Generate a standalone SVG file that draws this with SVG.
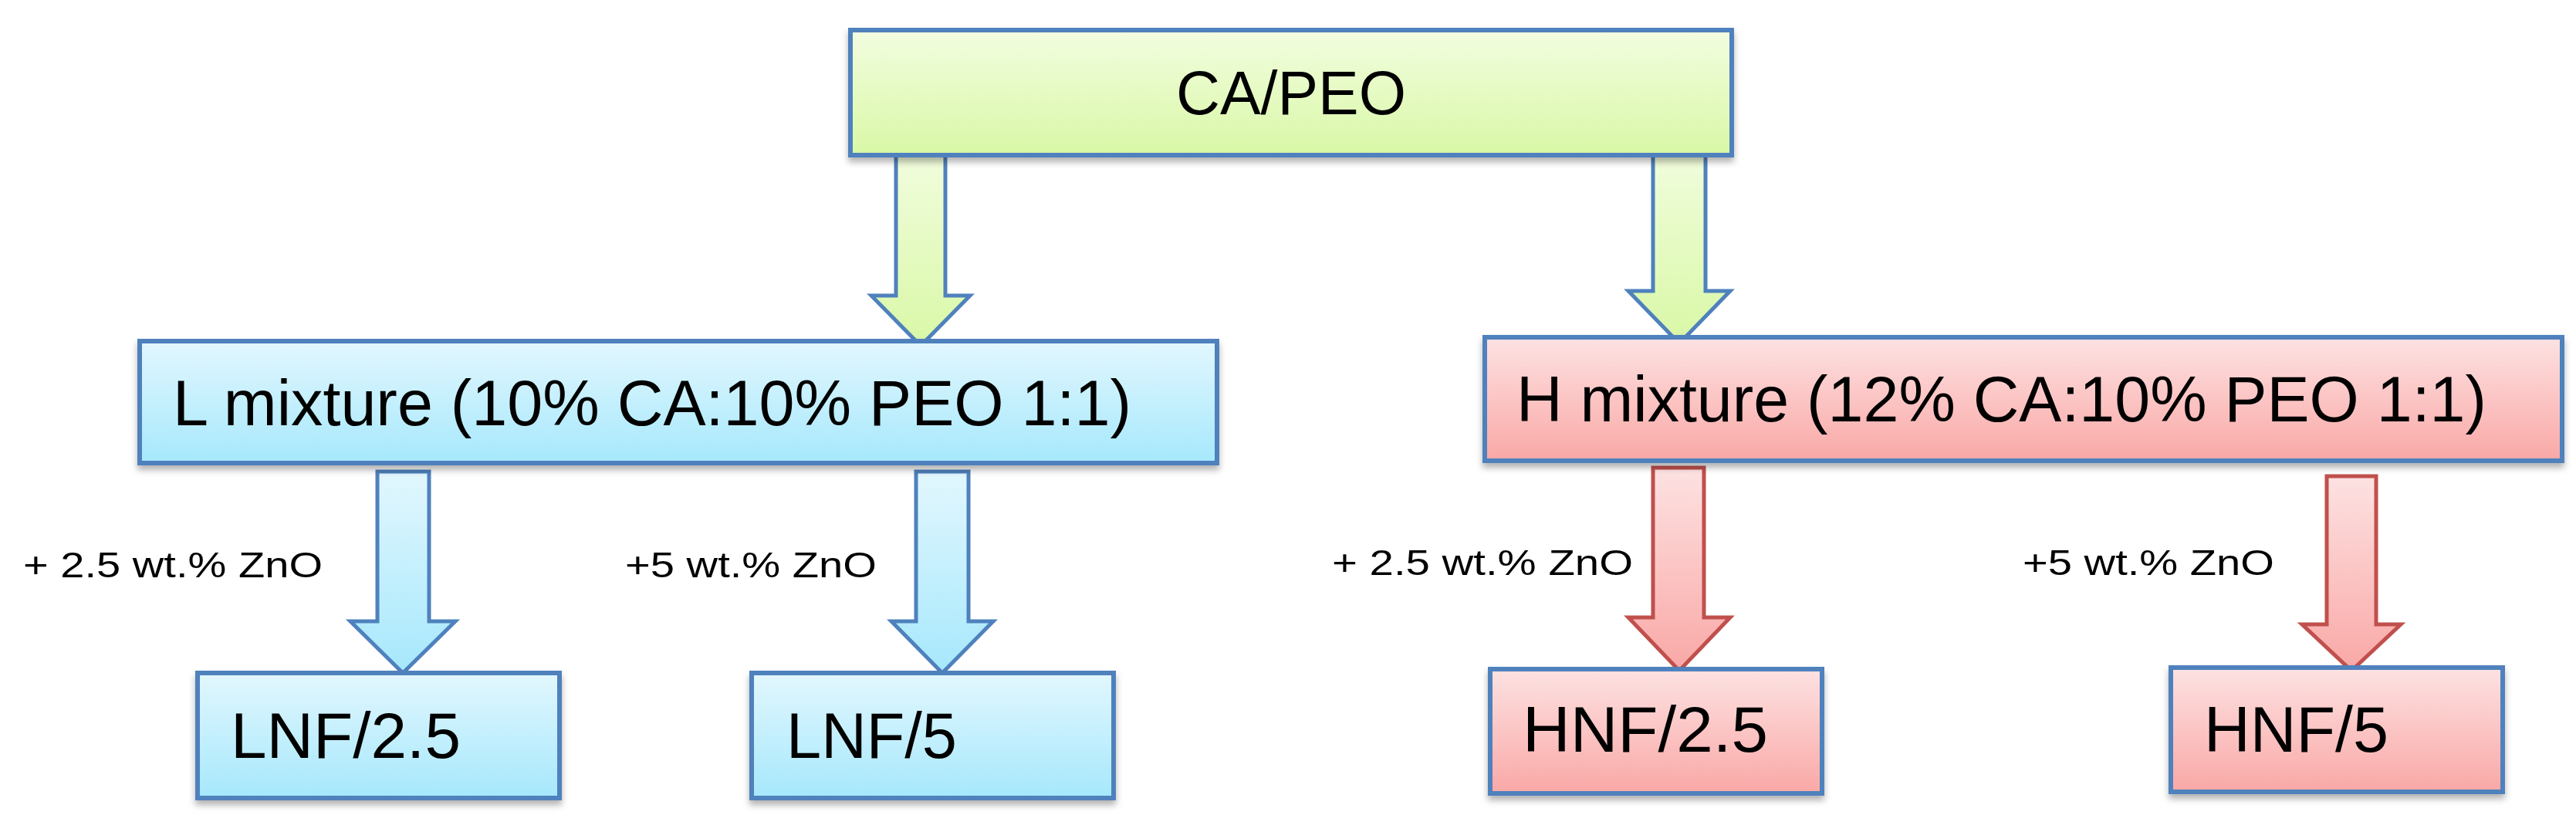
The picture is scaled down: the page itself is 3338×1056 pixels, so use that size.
<svg xmlns="http://www.w3.org/2000/svg" width="3338" height="1056" viewBox="0 0 3338 1056">
<defs>
<linearGradient id="gG" x1="0" y1="0" x2="0" y2="1"><stop offset="0" stop-color="#f2fde0"/><stop offset="1" stop-color="#d9f8a6"/></linearGradient>
<linearGradient id="gB" x1="0" y1="0" x2="0" y2="1"><stop offset="0" stop-color="#e2f7fe"/><stop offset="1" stop-color="#a6e8fc"/></linearGradient>
<linearGradient id="gR" x1="0" y1="0" x2="0" y2="1"><stop offset="0" stop-color="#fde2e2"/><stop offset="1" stop-color="#f9a8a6"/></linearGradient>
<filter id="sh" x="-5%" y="-5%" width="110%" height="120%"><feDropShadow dx="0" dy="6" stdDeviation="4" flood-color="#000" flood-opacity="0.3"/></filter>
</defs>
<style>
.box{stroke:#4f81bd;stroke-width:6;filter:url(#sh)}
.arr{stroke:#4f81bd;stroke-width:5;stroke-linejoin:miter}
.t{font-family:"Liberation Sans",Arial,sans-serif;fill:#000}
.big{font-size:84px}
.lab{font-size:46px}
</style>
<g id="connectors">
<path class="arr" fill="url(#gG)" d="M1161,187 H1225 V383 H1257 L1193,448 L1129,383 H1161 Z"/>
<path class="arr" fill="url(#gG)" d="M2142,182 H2210 V377 H2242 L2176,445 L2110,377 H2142 Z"/>
<path class="arr" fill="url(#gB)" d="M489,611 H556 V805 H590 L522,872 L454,805 H489 Z"/>
<path class="arr" fill="url(#gB)" d="M1187,611 H1255 V805 H1287 L1221,872 L1155,805 H1187 Z"/>
<path class="arr" fill="url(#gR)" style="stroke:#c0504d" d="M2142,606 H2208 V800 H2242 L2176,869 L2110,800 H2142 Z"/>
<path class="arr" fill="url(#gR)" style="stroke:#c0504d" d="M3015,617 H3079 V809 H3111 L3047,869 L2983,809 H3015 Z"/>
<text class="t lab" x="30" y="748" textLength="388" lengthAdjust="spacingAndGlyphs">+ 2.5 wt.% ZnO</text>
<text class="t lab" x="810" y="748" textLength="326" lengthAdjust="spacingAndGlyphs">+5 wt.% ZnO</text>
<text class="t lab" x="1726" y="745" textLength="390" lengthAdjust="spacingAndGlyphs">+ 2.5 wt.% ZnO</text>
<text class="t lab" x="2621" y="745" textLength="326" lengthAdjust="spacingAndGlyphs">+5 wt.% ZnO</text>
</g>
<g id="ca-peo"><rect class="box" x="1102" y="39" width="1142" height="162" fill="url(#gG)"/>
<text class="t" font-size="80" x="1524" y="148" textLength="298" lengthAdjust="spacingAndGlyphs">CA/PEO</text></g>
<g id="l-mixture"><rect class="box" x="181" y="442" width="1396" height="158" fill="url(#gB)"/>
<text class="t big" x="224" y="551" textLength="1242" lengthAdjust="spacingAndGlyphs">L mixture (10% CA:10% PEO 1:1)</text></g>
<g id="h-mixture"><rect class="box" x="1924" y="437" width="1396" height="160" fill="url(#gR)"/>
<text class="t big" x="1965" y="546" textLength="1257" lengthAdjust="spacingAndGlyphs">H mixture (12% CA:10% PEO 1:1)</text></g>
<g id="lnf25"><rect class="box" x="256" y="872" width="469" height="162" fill="url(#gB)"/>
<text class="t big" x="299" y="982" textLength="298" lengthAdjust="spacingAndGlyphs">LNF/2.5</text></g>
<g id="lnf5"><rect class="box" x="974" y="872" width="469" height="162" fill="url(#gB)"/>
<text class="t big" x="1019" y="982" textLength="221" lengthAdjust="spacingAndGlyphs">LNF/5</text></g>
<g id="hnf25"><rect class="box" x="1931" y="867" width="430" height="161" fill="url(#gR)"/>
<text class="t big" x="1973" y="974" textLength="318" lengthAdjust="spacingAndGlyphs">HNF/2.5</text></g>
<g id="hnf5"><rect class="box" x="2813" y="865" width="430" height="161" fill="url(#gR)"/>
<text class="t big" x="2856" y="974" textLength="239" lengthAdjust="spacingAndGlyphs">HNF/5</text></g>
</svg>
